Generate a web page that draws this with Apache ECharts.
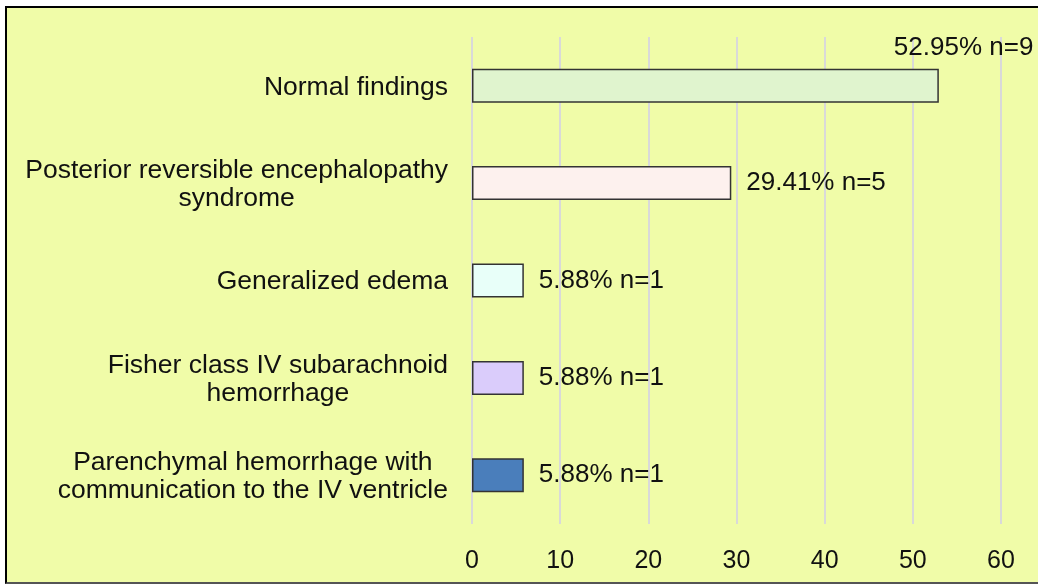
<!doctype html>
<html>
<head>
<meta charset="UTF-8"/>
<script src="https://cdn.jsdelivr.net/npm/echarts@6/dist/echarts.min.js"></script>
<style>
body { margin:0; background:#fff; }
#frame { position:absolute; left:5px; top:6px; width:1040px; height:574px; background:#F0FCA8; border:2px solid #000; border-bottom-color:#555; }
#main { position:absolute; left:0; top:0; width:1038px; height:584px; }
</style>
</head>
<body>
<div id="frame"></div>
<div id="main"></div>
<script>
// categories top to bottom
var categories = [
  'Normal findings',
  'Posterior reversible encephalopathy\nsyndrome',
  'Generalized edema',
  'Fisher class IV subarachnoid\nhemorrhage',
  'Parenchymal hemorrhage with\ncommunication to the IV ventricle'
];
var percents = [52.95, 29.41, 5.88, 5.88, 5.88];
var counts = [9, 5, 1, 1, 1];
var barColors = ['#E0F4CE', '#FDF1EE', '#E8FFF9', '#DACCFB', '#4A7EBB'];
var xTicks = [0, 60, 10];

var font = "'Liberation Sans', Arial, sans-serif";

var data = percents.map(function (v, i) {
  var item = { value: v, itemStyle: { color: barColors[i] } };
  if (i === 0) {
    // label sits above the first bar
    item.label = { offset: [-60, -38] };
  }
  return item;
});

var chart = echarts.init(document.getElementById('main'));

chart.setOption({
  backgroundColor: 'transparent',
  animation: false,
  grid: { left: 472, right: 37, top: 37, bottom: 60 },
  xAxis: {
    type: 'value',
    min: xTicks[0],
    max: xTicks[1],
    interval: xTicks[2],
    axisLine: { show: false },
    axisTick: { show: false },
    axisLabel: { margin: 25, color: '#111', fontSize: 25, fontFamily: font },
    splitLine: { lineStyle: { color: '#D9D9D9', width: 2 } }
  },
  yAxis: {
    type: 'category',
    inverse: true,
    data: categories,
    axisLine: { show: false },
    axisTick: { show: false },
    axisLabel: {
      margin: 24,
      color: '#111',
      fontSize: 26.5,
      fontFamily: font,
      formatter: function (v) {
        return v.split('\n').map(function (s) { return '{c|' + s + '}'; }).join('\n');
      },
      rich: {
        c: { align: 'center', fontSize: 26.5, lineHeight: 28, fontFamily: font, color: '#111', padding: [3, 0, 0, 0] }
      }
    }
  },
  series: [{
    type: 'bar',
    data: data,
    barWidth: 34,
    itemStyle: { borderColor: '#333', borderWidth: 1.5 },
    label: {
      show: true,
      position: 'right',
      distance: 15,
      color: '#111',
      fontSize: 26,
      fontFamily: font,
      formatter: function (p) {
        return percents[p.dataIndex].toFixed(2) + '% n=' + counts[p.dataIndex];
      }
    }
  }]
});
</script>
</body>
</html>
